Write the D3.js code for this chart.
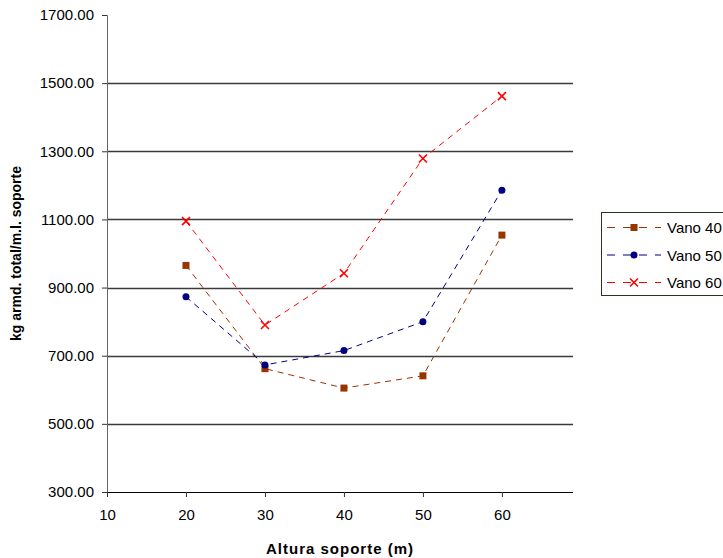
<!DOCTYPE html>
<html><head><meta charset="utf-8">
<script src="https://cdn.jsdelivr.net/npm/d3@7"></script>
<style>body{margin:0;background:#fff}svg{display:block}</style>
</head><body>
<svg id="c" width="723" height="558"></svg>
<script>
const alturas = [20, 30, 40, 50, 60];
const vano40 = [965, 662, 605, 641, 1054];
const vano50 = [873, 673, 715, 800, 1186];
const vano60 = [1095, 790, 942, 1279, 1462];
const seriesNames = ["Vano 40", "Vano 50", "Vano 60"];
const yTicks = [300, 500, 700, 900, 1100, 1300, 1500, 1700];
const xTicks = [10, 20, 30, 40, 50, 60];

const svg = d3.select("#c");
const font = "'Liberation Sans', Arial, sans-serif";
const x = d3.scaleLinear().domain([10, 69]).range([107, 573]);
const y = d3.scaleLinear().domain([300, 1700]).range([492, 15]);

// gridlines
svg.append("g").selectAll("line").data(yTicks.filter(v => v > 300 && v < 1700)).join("line")
  .attr("x1", x(10)).attr("x2", x(69))
  .attr("y1", d => Math.round(y(d)) + 0.5).attr("y2", d => Math.round(y(d)) + 0.5)
  .attr("stroke", "#3a3a3a").attr("stroke-width", 1.3);

// y axis
const yAxis = d3.axisLeft(y).tickValues(yTicks).tickSize(5).tickPadding(8).tickFormat(d3.format(".2f"));
const gy = svg.append("g").attr("transform", `translate(${x(10)},0)`).call(yAxis);
gy.attr("font-size", 15).attr("font-family", font);
gy.select(".domain").attr("stroke", "#666");
gy.selectAll(".tick line").attr("stroke", "#333");
gy.selectAll("text").attr("font-family", font).attr("font-size", 15).attr("fill", "#000");

// x axis
const xAxis = d3.axisBottom(x).tickValues(xTicks).tickSize(5).tickPadding(12).tickFormat(d3.format("d"));
const gx = svg.append("g").attr("transform", `translate(0,${y(300)})`).call(xAxis);
gx.attr("font-size", 15).attr("font-family", font);
gx.select(".domain").attr("stroke", "#000").attr("d", `M${x(10)},0.5H${x(69)}`);
gx.selectAll(".tick line").attr("stroke", "#333");
gx.selectAll("text").attr("font-family", font).attr("font-size", 15).attr("fill", "#000");

// axis titles
svg.append("text").attr("x", (x(10) + x(69)) / 2).attr("y", 554).attr("text-anchor", "middle")
  .attr("font-family", font).attr("font-size", 15).attr("font-weight", "bold")
  .attr("letter-spacing", 1).text("Altura soporte (m)");
svg.append("text").attr("transform", `translate(21,${(y(300) + y(1700)) / 2}) rotate(-90)`)
  .attr("text-anchor", "middle").attr("font-family", font).attr("font-size", 14).attr("font-weight", "bold")
  .text("kg armd. total/m.l. soporte");

const series = [
  {name: seriesNames[0], values: vano40, color: "#993300", marker: "square"},
  {name: seriesNames[1], values: vano50, color: "#000080", marker: "circle"},
  {name: seriesNames[2], values: vano60, color: "#ff0000", marker: "x"}
];

const line = d3.line().x((d, i) => x(alturas[i])).y(d => y(d));

function drawMarker(g, type, color, cx, cy) {
  if (type === "square") {
    g.append("rect").attr("x", cx - 3.5).attr("y", cy - 3.5).attr("width", 7).attr("height", 7).attr("fill", color);
  } else if (type === "circle") {
    g.append("circle").attr("cx", cx).attr("cy", cy).attr("r", 3.5).attr("fill", color);
  } else {
    g.append("path").attr("d", `M${cx-4},${cy-4}L${cx+4},${cy+4}M${cx-4},${cy+4}L${cx+4},${cy-4}`)
      .attr("stroke", color).attr("stroke-width", 1.6).attr("fill", "none");
  }
}

series.forEach(s => {
  svg.append("path").datum(s.values).attr("d", line).attr("fill", "none")
    .attr("stroke", s.color).attr("stroke-width", 1).attr("stroke-dasharray", "6,5");
  const g = svg.append("g");
  s.values.forEach((v, i) => drawMarker(g, s.marker, s.color, x(alturas[i]), y(v)));
});

// legend
const lg = svg.append("g");
lg.append("rect").attr("x", 601.5).attr("y", 212.5).attr("width", 140).attr("height", 83)
  .attr("fill", "#fff").attr("stroke", "#1e3a1e").attr("stroke-width", 1);
series.forEach((s, i) => {
  const ly = 227.5 + i * 27.5;
  lg.append("line").attr("x1", 607).attr("x2", 661).attr("y1", ly).attr("y2", ly)
    .attr("stroke", s.color).attr("stroke-width", 1).attr("stroke-dasharray", "8,8");
  drawMarker(lg, s.marker, s.color, 634, ly);
  lg.append("text").attr("x", 667).attr("y", ly + 5.5).attr("font-family", font).attr("font-size", 15)
    .attr("fill", "#000").text(s.name);
});
</script>
</body></html>
